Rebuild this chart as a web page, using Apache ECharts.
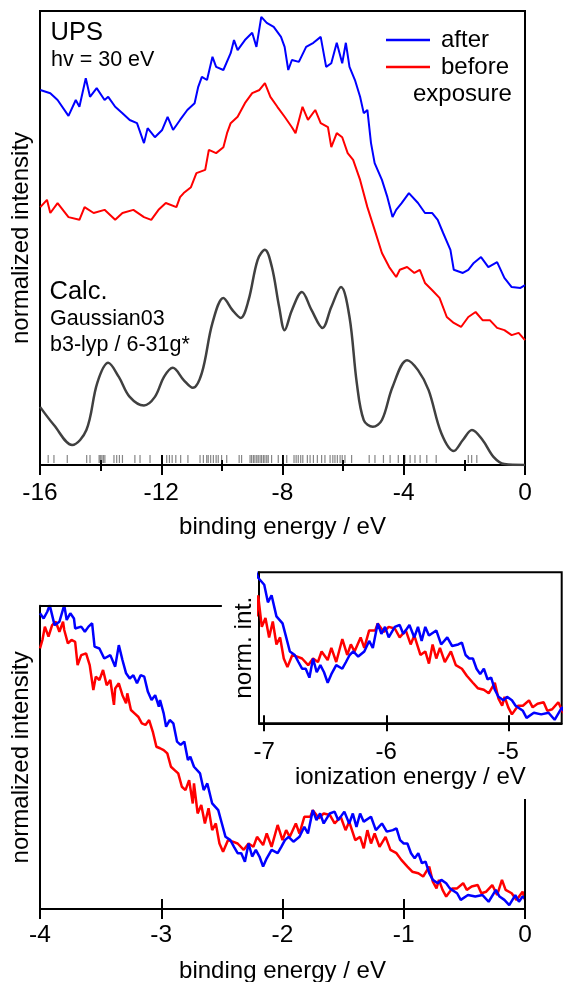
<!DOCTYPE html>
<html><head><meta charset="utf-8">
<script src="https://cdn.jsdelivr.net/npm/echarts@6/dist/echarts.min.js"></script>
<style>html,body{margin:0;padding:0;background:#fff}#c{width:563px;height:982px}</style>
</head><body><div id="c"></div>
<script>
// ---------- top panel: UPS spectra (binding energy, normalized intensity 0..100) ----------
const topBlueE = [-15.99,-15.66,-15.42,-15.06,-14.82,-14.70,-14.49,-14.35,-14.13,-13.87,-13.75,-13.52,-13.28,-13.04,-12.80,-12.57,-12.45,-12.21,-11.97,-11.79,-11.61,-11.38,-11.14,-10.90,-10.78,-10.66,-10.49,-10.31,-10.19,-9.95,-9.71,-9.60,-9.48,-9.24,-9.00,-8.86,-8.70,-8.52,-8.29,-8.05,-7.93,-7.81,-7.69,-7.46,-7.22,-6.98,-6.74,-6.56,-6.39,-6.21,-6.03,-5.91,-5.79,-5.61,-5.44,-5.32,-5.20,-5.08,-4.96,-4.72,-4.54,-4.37,-4.25,-4.07,-3.83,-3.53,-3.30,-3.06,-2.88,-2.70,-2.46,-2.35,-2.05,-1.87,-1.69,-1.45,-1.21,-0.92,-0.68,-0.44,-0.15,0.0];
const topBlueI = [82.6,81.9,80.4,76.9,80.4,78.9,85.2,81.1,83.0,80.4,81.1,78.9,77.5,76.0,75.3,70.9,74.2,72.2,73.8,76.7,73.8,76.0,78.2,79.7,83.3,85.5,84.8,89.9,87.7,87.0,90.7,93.6,91.4,93.6,95.2,92.1,98.7,97.4,96.5,94.3,92.1,87.0,89.2,88.8,92.1,93.0,94.3,87.7,88.5,93.0,88.5,93.0,87.7,84.8,81.1,77.5,78.2,70.9,66.5,62.8,59.0,54.6,56.2,57.7,59.9,57.7,55.5,55.5,54.0,51.1,47.4,43.0,42.3,43.0,44.5,45.8,43.6,44.7,41.2,39.2,39.0,39.6];
const topRedE = [-15.99,-15.77,-15.66,-15.42,-15.06,-14.70,-14.53,-14.23,-13.87,-13.52,-13.28,-12.92,-12.57,-12.33,-12.09,-11.85,-11.50,-11.38,-11.26,-11.02,-10.84,-10.55,-10.43,-10.19,-9.95,-9.83,-9.71,-9.48,-9.24,-9.00,-8.76,-8.58,-8.40,-8.17,-7.93,-7.69,-7.57,-7.34,-7.16,-6.92,-6.74,-6.50,-6.39,-6.21,-6.03,-5.85,-5.67,-5.44,-5.20,-4.96,-4.72,-4.48,-4.25,-4.13,-3.89,-3.65,-3.47,-3.30,-3.06,-2.82,-2.58,-2.35,-2.11,-1.87,-1.63,-1.40,-1.16,-0.92,-0.68,-0.44,-0.21,0.0];
const topRedI = [56.8,58.4,55.5,57.7,54.6,54.0,56.8,55.5,56.2,54.0,55.5,56.2,54.6,54.0,56.2,57.7,56.8,59.0,59.9,61.2,64.3,65.0,69.4,68.7,70.0,73.1,75.3,76.7,79.7,81.9,82.6,84.1,81.1,78.9,76.7,74.4,73.1,78.9,76.0,78.2,75.3,74.4,70.0,73.1,72.2,68.7,67.2,62.8,56.8,51.8,46.7,43.6,41.4,43.0,43.6,42.3,43.0,40.1,38.5,36.8,32.6,31.3,30.4,32.6,33.7,31.9,31.9,30.2,29.7,28.6,29.1,27.5];
// calculated DOS (Gaussian03 b3-lyp / 6-31g*)
const calcE = [-16.0,-15.54,-14.94,-14.47,-14.11,-13.75,-13.40,-13.04,-12.57,-12.21,-11.91,-11.62,-11.26,-10.96,-10.66,-10.31,-9.95,-9.65,-9.38,-9.12,-8.82,-8.58,-8.35,-8.11,-7.93,-7.69,-7.36,-7.04,-6.68,-6.39,-6.07,-5.79,-5.55,-5.32,-5.02,-4.72,-4.37,-3.89,-3.53,-3.18,-2.76,-2.35,-2.05,-1.75,-1.40,-1.04,-0.68,0.0];
const calcI = [12.8,8.8,4.4,7.7,18.1,22.5,19.4,15.0,13.1,15.0,19.4,21.4,18.7,17.0,20.3,31.3,36.8,34.1,32.4,36.3,45.2,47.4,43.6,34.8,29.7,34.1,38.1,34.1,30.2,34.8,39.2,32.6,18.1,9.9,8.4,9.9,17.2,23.1,20.9,16.5,7.0,3.1,5.5,7.7,5.5,1.8,0.2,0.0];
// calculated eigenvalues (sticks)
const stickE = [-15.73,-15.54,-15.10,-14.46,-14.35,-14.05,-14.01,-13.96,-13.91,-13.86,-13.56,-13.47,-13.38,-13.28,-12.87,-12.70,-12.37,-11.82,-11.73,-11.64,-11.52,-11.36,-11.12,-10.72,-10.61,-10.50,-10.45,-10.37,-10.28,-10.19,-10.12,-10.01,-9.84,-9.43,-9.35,-9.07,-9.02,-8.96,-8.91,-8.85,-8.80,-8.74,-8.69,-8.63,-8.58,-8.52,-8.47,-8.36,-8.14,-7.97,-7.86,-7.62,-7.55,-7.48,-7.40,-7.33,-7.18,-7.09,-6.98,-6.85,-6.71,-6.60,-6.43,-6.34,-6.27,-6.19,-6.10,-6.03,-5.94,-5.72,-5.14,-4.95,-4.67,-4.45,-4.18,-3.96,-3.79,-3.63,-3.46,-3.24,-2.93,-1.87,-1.76,-1.59];
const stickLevel = 1.32;

// ---------- bottom panel: valence band edge (binding energy, normalized intensity 0..100) ----------
const botBlueE = [-4.00,-3.97,-3.94,-3.92,-3.88,-3.84,-3.80,-3.78,-3.75,-3.72,-3.71,-3.66,-3.63,-3.60,-3.57,-3.55,-3.51,-3.47,-3.42,-3.38,-3.35,-3.32,-3.29,-3.26,-3.23,-3.20,-3.17,-3.14,-3.11,-3.08,-3.05,-3.02,-3.01,-2.98,-2.96,-2.93,-2.90,-2.87,-2.84,-2.81,-2.78,-2.76,-2.73,-2.68,-2.65,-2.62,-2.58,-2.53,-2.50,-2.47,-2.43,-2.40,-2.37,-2.34,-2.31,-2.28,-2.25,-2.22,-2.19,-2.16,-2.13,-2.09,-2.04,-2.01,-1.98,-1.95,-1.91,-1.86,-1.82,-1.79,-1.75,-1.72,-1.69,-1.66,-1.61,-1.57,-1.54,-1.49,-1.45,-1.42,-1.39,-1.36,-1.33,-1.27,-1.23,-1.18,-1.14,-1.09,-1.06,-1.03,-1.00,-0.97,-0.94,-0.91,-0.88,-0.85,-0.82,-0.79,-0.76,-0.72,-0.69,-0.65,-0.62,-0.56,-0.53,-0.47,-0.41,-0.35,-0.30,-0.24,-0.21,-0.17,-0.13,-0.08,-0.05,-0.02,0.0];
const botBlueI = [97.5,95.8,98.0,100.2,93.6,94.7,100.2,95.3,97.5,95.8,92.5,93.1,91.4,93.1,94.2,86.5,85.9,82.6,83.7,79.9,87.0,82.1,77.7,76.0,77.1,74.4,77.1,76.6,71.6,68.9,70.5,66.7,68.9,64.5,60.1,62.3,61.2,55.2,54.1,55.2,49.1,50.2,46.9,44.7,39.2,41.4,34.8,32.6,28.2,23.8,22.7,20.5,18.4,18.4,15.6,21.6,17.3,19.5,17.3,14.0,16.7,19.5,18.4,20.5,22.7,23.8,22.2,23.8,27.1,24.9,32.6,29.3,31.5,28.2,31.5,32.1,29.3,32.1,28.2,31.5,27.1,31.5,28.8,30.4,26.0,28.2,25.5,26.0,26.6,22.7,21.6,21.6,18.4,16.7,18.4,15.1,15.6,11.8,9.6,8.5,9.6,8.5,6.8,5.2,3.0,4.6,4.1,4.6,2.4,6.3,4.1,3.0,1.3,4.6,2.4,4.1,3.5];
const botRedE = [-4.00,-3.98,-3.96,-3.93,-3.90,-3.87,-3.84,-3.81,-3.80,-3.77,-3.74,-3.71,-3.69,-3.66,-3.62,-3.59,-3.56,-3.54,-3.51,-3.48,-3.45,-3.42,-3.39,-3.38,-3.35,-3.32,-3.29,-3.28,-3.25,-3.22,-3.19,-3.16,-3.13,-3.10,-3.07,-3.04,-3.01,-2.98,-2.95,-2.92,-2.89,-2.86,-2.83,-2.80,-2.77,-2.74,-2.73,-2.70,-2.67,-2.64,-2.61,-2.58,-2.55,-2.52,-2.49,-2.45,-2.41,-2.37,-2.32,-2.28,-2.24,-2.21,-2.16,-2.13,-2.09,-2.04,-2.00,-1.97,-1.94,-1.89,-1.86,-1.82,-1.77,-1.75,-1.70,-1.66,-1.61,-1.57,-1.52,-1.48,-1.45,-1.40,-1.36,-1.33,-1.30,-1.27,-1.24,-1.20,-1.15,-1.11,-1.06,-1.02,-0.97,-0.93,-0.88,-0.84,-0.79,-0.76,-0.73,-0.71,-0.68,-0.65,-0.60,-0.56,-0.51,-0.48,-0.44,-0.39,-0.36,-0.32,-0.27,-0.23,-0.19,-0.16,-0.11,-0.07,-0.02,0.0];
const botRedI = [85.9,88.7,93.1,89.8,93.6,94.7,91.4,94.7,92.0,87.6,88.7,88.1,80.4,83.7,84.3,80.4,72.2,76.6,75.5,78.8,73.8,75.5,67.3,72.7,74.4,70.5,67.8,71.1,65.6,64.5,63.4,61.2,60.7,62.3,58.5,53.5,53.0,52.4,51.3,46.9,45.8,44.7,40.3,39.2,42.5,34.8,41.4,31.5,34.3,28.2,33.2,26.0,28.2,21.6,18.9,22.7,22.2,21.6,19.5,21.6,20.5,23.8,21.1,24.9,20.5,27.7,22.7,26.0,23.8,28.2,24.9,30.4,30.4,32.6,29.9,31.5,31.0,28.2,30.4,26.0,28.8,22.7,23.8,20.0,26.0,21.6,24.9,20.5,23.8,19.5,18.4,16.2,14.0,12.3,11.8,10.7,14.0,9.0,6.8,9.6,6.3,4.1,6.8,6.8,8.5,6.3,7.4,7.9,5.2,5.7,7.9,4.6,9.6,6.3,5.2,3.0,5.7,3.0];
// inset: same spectra on the ionization-energy scale
const insetShift = -4.32;
const insetTicks = [-7, -6, -5];

const zip = (a, b) => a.map((e, i) => [e, b[i]]);
const FONT = 'Liberation Sans, Arial, Helvetica, sans-serif';
const BLUE = '#0000ff', RED = '#ff0000';

function mainX(grid, min, max, interval, minor, labelMargin, nameGap, extra) {
  return Object.assign({
    type: 'value', gridIndex: grid, min, max, interval, position: 'bottom',
    axisLine: { show: true, onZero: false, lineStyle: { color: '#000', width: 2 } },
    axisTick: { show: true, inside: false, length: 10, lineStyle: { color: '#000', width: 2 } },
    minorTick: { show: minor, splitNumber: 2, length: 6, lineStyle: { color: '#000', width: 2 } },
    axisLabel: { show: true, color: '#000', fontSize: 24.5, fontFamily: FONT, margin: labelMargin },
    splitLine: { show: false }, minorSplitLine: { show: false },
    name: 'binding energy / eV', nameLocation: 'middle', nameGap,
    nameTextStyle: { color: '#000', fontSize: 24, fontFamily: FONT }
  }, extra || {});
}
function innerX(grid, min, max, interval, minor, extra) {
  return Object.assign({
    type: 'value', gridIndex: grid, min, max, interval, position: 'bottom',
    axisLine: { show: false, onZero: false },
    axisTick: { show: true, inside: true, length: 10, lineStyle: { color: '#000', width: 2 } },
    minorTick: { show: minor, splitNumber: 2, length: 5, lineStyle: { color: '#000', width: 2 } },
    axisLabel: { show: false }, splitLine: { show: false }, minorSplitLine: { show: false }
  }, extra || {});
}
function yAx(grid, min, max, name, gap, size) {
  return {
    type: 'value', gridIndex: grid, min, max,
    axisLine: { show: true, onZero: false, lineStyle: { color: '#000', width: 2 } },
    axisTick: { show: false }, axisLabel: { show: false }, splitLine: { show: false },
    name, nameLocation: 'middle', nameGap: gap, nameRotate: 90,
    nameTextStyle: { color: '#000', fontSize: size, fontFamily: FONT }
  };
}
function line(name, x, y, data, color, width, extra) {
  return Object.assign({
    type: 'line', name, xAxisIndex: x, yAxisIndex: y, data, showSymbol: false, symbol: 'none',
    lineStyle: { color, width }, itemStyle: { color }, animation: false, z: 3
  }, extra || {});
}

const chart = echarts.init(document.getElementById('c'), null, { renderer: 'canvas' });
chart.setOption({
  backgroundColor: '#fff',
  animation: false,
  grid: [
    { left: 40, top: 11, width: 485, height: 454, show: true, borderColor: '#000', borderWidth: 2, containLabel: false, outerBoundsMode: 'none' },
    { left: 40, top: 605.7, width: 485, height: 303.3, show: false, containLabel: false, outerBoundsMode: 'none' },
    { left: 259, top: 572.3, width: 302.7, height: 151, show: true, borderColor: '#000', borderWidth: 2, containLabel: false, outerBoundsMode: 'none' }
  ],
  xAxis: [
    mainX(0, -16, 0, 4, true, 16, 50),
    innerX(0, -16, 0, 4, true),
    mainX(1, -4, 0, 1, false, 14, 50),
    innerX(1, -4, 0, 1, false),
    mainX(2, -7.043, -4.562, null, false, 17, 42, {
      name: 'ionization energy / eV',
      axisTick: { show: true, inside: false, length: 8, customValues: insetTicks, lineStyle: { color: '#000', width: 2 } },
      axisLabel: { show: true, color: '#000', fontSize: 24, fontFamily: FONT, margin: 17, customValues: insetTicks }
    }),
    innerX(2, -7.043, -4.562, null, false, {
      axisTick: { show: true, inside: true, length: 8, customValues: insetTicks, lineStyle: { color: '#000', width: 2 } }
    })
  ],
  yAxis: [
    yAx(0, 0, 100, 'normalized intensity', 7, 24),
    yAx(1, 0, 100, 'normalized intensity', 7, 24),
    yAx(2, 1.3, 48.6, 'norm. int.', 2, 24.5)
  ],
  legend: {
    data: ['after', 'before'], orient: 'vertical', left: 386, top: 27, itemGap: 1, padding: 0,
    icon: 'rect', itemWidth: 44, itemHeight: 2.5, selectedMode: false,
    textStyle: { color: '#000', fontSize: 24, fontFamily: FONT, lineHeight: 26, padding: [0, 0, 0, 6] }
  },
  graphic: [
    { type: 'text', x: 50.5, y: 33, style: { text: 'UPS', fontSize: 25.5, fontFamily: FONT, fill: '#000', verticalAlign: 'middle' } },
    { type: 'text', x: 51, y: 60, style: { text: 'hv = 30 eV', fontSize: 21.5, fontFamily: FONT, fill: '#000', verticalAlign: 'middle' } },
    { type: 'text', x: 413, y: 94, style: { text: 'exposure', fontSize: 24, fontFamily: FONT, fill: '#000', verticalAlign: 'middle' } },
    { type: 'text', x: 49.5, y: 292, style: { text: 'Calc.', fontSize: 25.5, fontFamily: FONT, fill: '#000', verticalAlign: 'middle' } },
    { type: 'text', x: 50, y: 319, style: { text: 'Gaussian03', fontSize: 21.5, fontFamily: FONT, fill: '#000', verticalAlign: 'middle' } },
    { type: 'text', x: 50, y: 345, style: { text: 'b3-lyp / 6-31g*', fontSize: 21.5, fontFamily: FONT, fill: '#000', verticalAlign: 'middle' } }
  ],
  series: [
    line('before', 0, 0, zip(topRedE, topRedI), RED, 2),
    line('after', 0, 0, zip(topBlueE, topBlueI), BLUE, 2),
    line('calc', 0, 0, zip(calcE, calcI), '#404040', 2.5, { smooth: 0.35 }),
    { type: 'scatter', name: 'eigenvalues', xAxisIndex: 0, yAxisIndex: 0, symbol: 'rect', symbolSize: [1.2, 8],
      itemStyle: { color: 'rgba(40,40,40,0.7)' }, data: stickE.map(e => [e, stickLevel]), animation: false, silent: true, z: 2 },
    line('before', 2, 1, zip(botRedE, botRedI), RED, 2.5, {
      markLine: { silent: true, symbol: ['none', 'none'], animation: false, label: { show: false },
        lineStyle: { color: '#000', width: 2, type: 'solid' },
        data: [[{ coord: [-4, 100] }, { coord: [-2.5, 100] }], [{ coord: [0, 0] }, { coord: [0, 36.3] }]] }
    }),
    line('after', 2, 1, zip(botBlueE, botBlueI), BLUE, 2.5),
    line('before', 4, 2, zip(botRedE.map(e => e + insetShift), botRedI), RED, 2.5),
    line('after', 4, 2, zip(botBlueE.map(e => e + insetShift), botBlueI), BLUE, 2.5)
  ]
});
</script></body></html>
